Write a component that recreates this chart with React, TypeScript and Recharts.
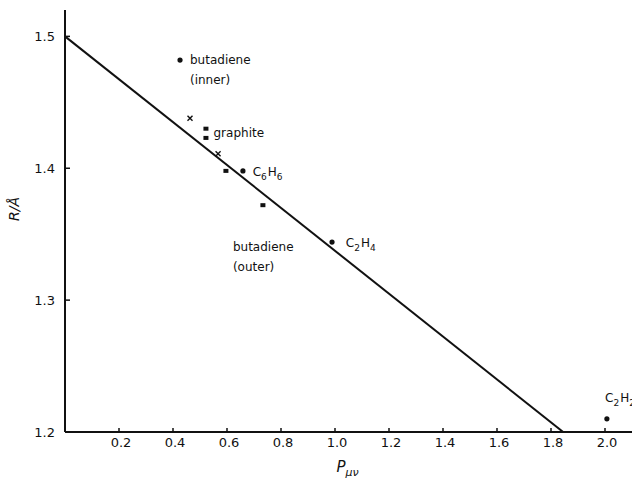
import { ComposedChart, Scatter, XAxis, YAxis, Label } from 'recharts'

// bond order vs bond length
const fitLine = [
  { x: 0, y: 1.5 },
  { x: 1.845, y: 1.2 },
]
const dotPoints = [
  { x: 0.426, y: 1.482 },
  { x: 0.659, y: 1.398 },
  { x: 0.989, y: 1.344 },
  { x: 2.007, y: 1.21 },
]
const crossPoints = [
  { x: 0.463, y: 1.438 },
  { x: 0.567, y: 1.411 },
]
const squarePoints = [
  { x: 0.522, y: 1.43 },
  { x: 0.522, y: 1.423 },
  { x: 0.596, y: 1.398 },
  { x: 0.733, y: 1.372 },
]
const notes = [
  { x: 0.463, y: 1.482, text: 'butadiene' },
  { x: 0.463, y: 1.467, text: '(inner)' },
  { x: 0.55, y: 1.427, text: 'graphite' },
  { x: 0.695, y: 1.397, text: 'C6H6' },
  { x: 0.622, y: 1.34, text: 'butadiene' },
  { x: 0.622, y: 1.325, text: '(outer)' },
  { x: 1.04, y: 1.343, text: 'C2H4' },
  { x: 2.0, y: 1.226, text: 'C2H2' },
]
const xTicks = [0.2, 0.4, 0.6, 0.8, 1.0, 1.2, 1.4, 1.6, 1.8, 2.0]
const yTicks = [1.2, 1.3, 1.4, 1.5]

const FONT = '"DejaVu Sans", sans-serif'

const XTick = ({ x, y, payload }: any) => (
  <g>
    <line x1={x} y1={y} x2={x} y2={y - 4} stroke="#111" strokeWidth={1.5} />
    <text x={x + 2} y={y + 15} textAnchor="middle" fontSize={13} fontFamily={FONT} fill="#111">
      {payload.value.toFixed(1)}
    </text>
  </g>
)

const YTick = ({ x, y, payload }: any) => (
  <g>
    <line x1={x} y1={y} x2={x + 5} y2={y} stroke="#111" strokeWidth={1.5} />
    <text x={x - 10} y={y + 5} textAnchor="end" fontSize={13} fontFamily={FONT} fill="#111">
      {payload.value.toFixed(1)}
    </text>
  </g>
)

// formula like C2H4 -> digits as subscripts
const Note = (props: any) => {
  const { cx, cy, payload } = props
  const parts = payload.text.match(/[A-Za-z()]+|\d/g) || []
  const isFormula = /\d/.test(payload.text)
  return (
    <text x={cx} y={cy + 4} fontSize={12} fontFamily={FONT} fill="#111">
      {isFormula
        ? parts.map((p: string, i: number) =>
            /\d/.test(p) ? (
              <tspan key={i} fontSize={9} dy={4}>
                {p}
              </tspan>
            ) : (
              <tspan key={i} dy={i > 0 ? -4 : 0} dx={i > 0 ? 1 : 0}>
                {p}
              </tspan>
            )
          )
        : payload.text}
    </text>
  )
}

const Dot = ({ cx, cy }: any) => <circle cx={cx} cy={cy} r={2.6} fill="#111" />
const Cross = ({ cx, cy }: any) => (
  <g stroke="#111" strokeWidth={1.4}>
    <line x1={cx - 2.5} y1={cy - 2.5} x2={cx + 2.5} y2={cy + 2.5} />
    <line x1={cx - 2.5} y1={cy + 2.5} x2={cx + 2.5} y2={cy - 2.5} />
  </g>
)
const Square = ({ cx, cy }: any) => <rect x={cx - 2.5} y={cy - 2} width={5} height={4} fill="#111" />

const XTitle = ({ viewBox }: any) => {
  const { x, y, width } = viewBox
  return (
    <text x={x + width / 2 - 12} y={y + 40} fontSize={15} fontStyle="italic" fontFamily={FONT} fill="#111">
      P
      <tspan fontSize={11} dy={4}>
        μν
      </tspan>
    </text>
  )
}

export default function App() {
  return (
    <div style={{ position: 'fixed', left: 0, top: 0, background: '#fff' }}>
      <ComposedChart width={635} height={486} margin={{ top: 10, right: 3, bottom: 14, left: 20 }}>
        <XAxis
          type="number"
          dataKey="x"
          domain={[0, 2.1]}
          ticks={xTicks}
          tick={<XTick />}
          tickLine={false}
          tickSize={0}
          tickMargin={0}
          height={40}
          axisLine={{ stroke: '#111', strokeWidth: 2 }}
          allowDataOverflow
        >
          <Label content={<XTitle />} />
        </XAxis>
        <YAxis
          type="number"
          dataKey="y"
          domain={[1.2, 1.52]}
          ticks={yTicks}
          tick={<YTick />}
          tickLine={false}
          tickSize={0}
          tickMargin={0}
          width={45}
          axisLine={{ stroke: '#111', strokeWidth: 2 }}
          allowDataOverflow
        >
          <Label
            value="R/Å"
            angle={-90}
            position="insideLeft"
            offset={-6}
            style={{ fontSize: 14, fontStyle: 'italic', fontFamily: FONT, fill: '#111' }}
          />
        </YAxis>
        <Scatter data={fitLine} line={{ stroke: '#111', strokeWidth: 2 }} shape={() => null} isAnimationActive={false} />
        <Scatter data={dotPoints} shape={<Dot />} isAnimationActive={false} />
        <Scatter data={crossPoints} shape={<Cross />} isAnimationActive={false} />
        <Scatter data={squarePoints} shape={<Square />} isAnimationActive={false} />
        <Scatter data={notes} shape={<Note />} isAnimationActive={false} />
      </ComposedChart>
    </div>
  )
}
